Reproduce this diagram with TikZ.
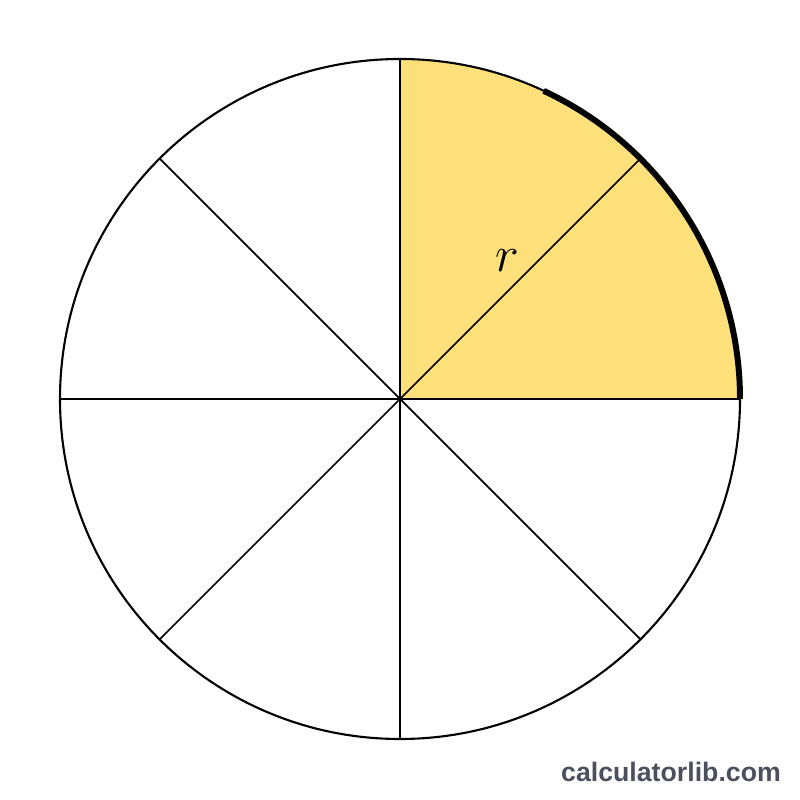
\documentclass[tikz,border=0pt]{standalone}
\usepackage{fontspec}
\newfontfamily\sitefont{Liberation Sans}
\definecolor{sectoryellow}{RGB}{253,224,122}
\definecolor{sitegray}{RGB}{74,80,94}
\begin{document}
\begin{tikzpicture}
        \useasboundingbox (-4,-4.01) rectangle (4,3.99);

        % Shaded quarter sector
        \fill[sectoryellow] (0,0) -- (3.4,0) arc (0:90:3.4) -- cycle;

        % Circle and the eight radii
        \draw[line width=0.6pt] (0,0) circle (3.4);
        \foreach \a in {0,45,...,315}
            \draw[line width=0.5pt] (0,0) -- (\a:3.4);

        % Highlighted arc
        \draw[line width=1.7pt] (0:3.4) arc (0:65:3.4);

        % Label for the radius
        \node (rlabel) at (1.07,1.38) {\Large $r$};

        % Site mark
        \node[text=sitegray, font=\sitefont\bfseries\fontsize{7.6pt}{9pt}\selectfont] (site) at (2.71,-3.73) {calculatorlib.com};
    \end{tikzpicture}
\end{document}
